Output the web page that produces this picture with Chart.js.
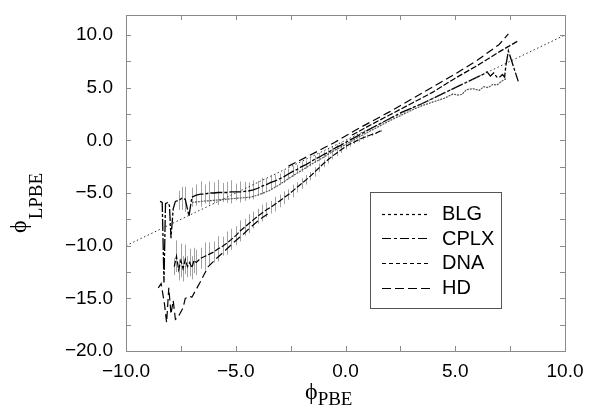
<!DOCTYPE html>
<html>
<head>
<meta charset="utf-8">
<script src="https://cdn.jsdelivr.net/npm/chart.js@4.4.1/dist/chart.umd.min.js"></script>
<style>
body{margin:0;background:#fff}
#wrap{width:589px;height:415px;position:relative}
</style>
</head>
<body>
<div id="wrap"><canvas id="chart"></canvas></div>
<script>
// reference line phi_LPBE = phi_PBE
let diagX = [-10, 10];
let diagY = [-10, 10];

let blgX = [-7.0,-6.6,-6.0,-5.5,-5.0,-4.35,-4.0,-3.5,-3.0,-2.5,-2.0,-1.5,-1.0,-0.5,0,0.5,1.0,1.5,2.0,2.5,3.0,3.5,4.0,4.5,4.9,5.1,5.3,5.5,5.8,6.1,6.3,6.5,6.7,6.9,7.1,7.35];
let blgY = [-5.9,-5.8,-5.7,-5.6,-5.5,-5.4,-5.2,-4.8,-4.2,-3.5,-2.85,-2.2,-1.6,-0.95,-0.4,0.2,0.75,1.3,1.85,2.35,2.85,3.3,3.65,4.0,4.4,4.3,4.35,4.8,4.9,4.75,5.1,5.0,5.3,5.25,5.6,5.9];

let cplxX = [-8.45,-8.35,-8.27,-8.2,-8.1,-8.02,-7.95,-7.85,-7.75,-7.6,-7.45,-7.3,-7.13,-7.0,
  -6.8,-6.6,-6.4,-6.2,-6.0,-5.8,-5.6,-5.4,-5.2,-5.0,-4.8,-4.6,-4.4,
  -4.2,-4.0,-3.8,-3.6,-3.4,-3.2,-3.0,-2.8,-2.6,-2.4,-2.2,-2.0,-1.8,-1.6,-1.4,-1.2,-1.0,-0.8,-0.6,-0.4,-0.2,0.0,
  0.5,1.0,1.5,2.0,2.5,3.0,3.5,4.0,4.5,5.0,5.5,6.0,6.3,6.45,6.6,6.75,6.9,7.05,7.15,7.25,7.3,7.42,7.87];
let cplxY = [-5.8,-5.9,-13.5,-6.0,-5.9,-6.2,-9.3,-6.5,-5.8,-5.7,-5.5,-5.6,-7.2,-5.4,
  -5.2,-5.1,-5.1,-5.0,-5.0,-4.95,-4.95,-4.95,-4.9,-4.9,-4.9,-4.85,-4.8,
  -4.7,-4.55,-4.35,-4.2,-4.0,-3.85,-3.65,-3.45,-3.2,-2.95,-2.75,-2.5,-2.3,-2.05,-1.8,-1.6,-1.35,-1.15,-0.9,-0.65,-0.45,-0.2,
  0.35,0.95,1.5,2.05,2.6,3.05,3.5,4.0,4.5,5.0,5.5,6.0,6.3,6.5,6.1,6.4,6.0,6.05,6.25,6.0,7.0,8.5,5.6];
let cplxErr = [0,0,0,0,0,0,0,0,0,0.9,1.1,1.2,0,0.9,
  1.0,1.2,0.9,1.1,1.0,1.2,0.9,1.0,1.1,0.8,1.0,0.9,0.8,
  0.9,0.7,0.8,0.6,0.7,0.6,0.5,0.6,0.5,0.5,0.4,0.5,0.4,0.4,0.35,0.4,0.3,0.3,0.3,0.25,0.25,0.2,
  0,0,0,0,0,0,0,0,0,0,0,0,0,0,0,0,0,0,0,0,0,0,0];

let dnaX = [-7.8,-7.7,-7.6,-7.5,-7.4,-7.3,-7.2,-7.1,-7.0,-6.9,
  -6.8,-6.6,-6.4,-6.2,-6.0,-5.8,-5.6,-5.4,-5.2,-5.0,-4.8,-4.6,-4.4,-4.2,-4.0,-3.8,-3.6,-3.4,-3.2,-3.0,-2.8,-2.6,
  -2.4,-2.2,-2.0,-1.8,-1.6,-1.4,-1.2,-1.0,-0.8,-0.6,-0.4,-0.2,0.0,0.2,0.4,0.6,0.8,1.0,1.2,1.4,1.6,
  1.7,
  0.3,1.0,2.0,3.0,4.0,5.0,6.0,7.0,7.87];
let dnaY = [-12.0,-11.0,-12.3,-11.4,-12.2,-11.3,-12.0,-11.6,-12.1,-11.4,
  -11.6,-11.2,-11.0,-10.8,-10.6,-10.3,-10.05,-9.75,-9.4,-9.05,-8.6,-8.25,-7.9,-7.55,-7.2,-6.9,-6.6,-6.35,-6.05,-5.75,-5.45,-5.15,
  -4.8,-4.45,-4.1,-3.75,-3.4,-3.0,-2.6,-2.2,-1.85,-1.5,-1.2,-0.9,-0.6,-0.35,-0.15,0.05,0.25,0.4,0.55,0.7,0.9,
  null,
  0.5,1.3,2.4,3.5,4.6,5.9,7.1,8.4,9.45];
let dnaErr = [0.8,1.5,1.0,1.6,1.2,1.4,1.0,1.3,1.1,1.2,
  1.2,1.0,1.3,1.1,1.0,1.2,0.9,1.1,1.0,0.9,1.0,0.8,0.9,0.8,0.7,0.8,0.7,0.6,0.7,0.6,0.6,0.5,
  0.6,0.5,0.5,0.45,0.4,0.45,0.4,0.35,0.35,0.3,0.3,0.3,0.25,0.25,0.2,0.2,0.2,0.15,0.15,0.1,0.1,
  0,
  0,0,0,0,0,0,0,0,0];

let hdX = [-8.53,-8.4,-8.25,-8.15,-8.05,-7.95,-7.85,-7.75,-7.63,-7.4,-7.3,-7.1,-7.0,-6.63,-6.26,-5.87,-5.5,-5.1,-4.7,-4.35,-3.9,-3.44,
  -3.0,
  -2.6,-1.7,-0.5,0.66,2.0,3.0,4.0,5.0,6.0,7.0,7.42];
let hdY = [-14.0,-13.6,-15.5,-17.3,-14.0,-16.5,-15.2,-17.0,-16.8,-15.9,-15.0,-14.8,-14.9,-13.5,-12.0,-11.2,-10.5,-9.7,-9.0,-8.3,-7.5,-6.85,
  null,
  -2.45,-1.5,-0.2,1.2,2.7,3.9,5.1,6.3,7.6,9.1,10.1];

let xTicks = [-10,-7.5,-5,-2.5,0,2.5,5,7.5,10];
let yTicks = [-20,-17.5,-15,-12.5,-10,-7.5,-5,-2.5,0,2.5,5,7.5,10];

function pts(xs, ys) {
    return xs.map((x, i) => ({x: x, y: ys[i]}));
}
function fmt(v) {
    if (v % 5 !== 0) return "";
    return (v < 0 ? "\u2212" : "") + Math.abs(v).toFixed(1);
}

let decor = {
    id: "decor",
    beforeDatasetsDraw(chart) {
        let ctx = chart.ctx, sx = chart.scales.x, sy = chart.scales.y;
        ctx.save();
        ctx.strokeStyle = "#a2a2a2";
        ctx.lineWidth = 1;
        chart.data.datasets.forEach(ds => {
            if (!ds.errs) return;
            ds.data.forEach((p, i) => {
                let e = ds.errs[i];
                if (!e || p.y == null) return;
                let px = Math.round(sx.getPixelForValue(p.x)) + 0.5;
                ctx.beginPath();
                ctx.moveTo(px, sy.getPixelForValue(p.y - e));
                ctx.lineTo(px, sy.getPixelForValue(p.y + e));
                ctx.stroke();
            });
        });
        ctx.restore();
    },
    afterDraw(chart) {
        let ctx = chart.ctx, a = chart.chartArea, sx = chart.scales.x, sy = chart.scales.y;
        ctx.save();
        // frame with inward ticks
        ctx.strokeStyle = "#8a8a8a";
        ctx.lineWidth = 1;
        ctx.strokeRect(a.left + 0.5, a.top + 0.5, a.right - a.left, a.bottom - a.top);
        ctx.beginPath();
        xTicks.forEach(v => {
            let p = Math.round(sx.getPixelForValue(v)) + 0.5;
            ctx.moveTo(p, a.bottom); ctx.lineTo(p, a.bottom - 5);
            ctx.moveTo(p, a.top); ctx.lineTo(p, a.top + 5);
        });
        yTicks.forEach(v => {
            let p = Math.round(sy.getPixelForValue(v)) + 0.5;
            ctx.moveTo(a.left, p); ctx.lineTo(a.left + 5, p);
            ctx.moveTo(a.right, p); ctx.lineTo(a.right - 5, p);
        });
        ctx.stroke();

        // legend box
        ctx.fillStyle = "#fff";
        ctx.fillRect(370, 192, 132, 117);
        ctx.strokeStyle = "#555";
        ctx.strokeRect(370.5, 192.5, 131, 116);
        ctx.font = "20px 'Liberation Sans', Arial, sans-serif";
        ctx.textBaseline = "middle";
        ctx.fillStyle = "#000";
        let rows = chart.data.datasets.filter(d => d.label);
        rows.forEach((d, i) => {
            let y = 213.5 + i * 24.7;
            ctx.save();
            ctx.strokeStyle = "#000";
            ctx.lineWidth = 1.2;
            ctx.setLineDash(d.legendDash || d.borderDash || []);
            ctx.beginPath();
            ctx.moveTo(382, Math.round(y) + 0.5);
            ctx.lineTo(430, Math.round(y) + 0.5);
            ctx.stroke();
            ctx.restore();
            ctx.fillText(d.label, 442, y + 1);
        });

        // axis titles
        ctx.textBaseline = "alphabetic";
        ctx.font = "24px 'Liberation Serif', 'DejaVu Serif', serif";
        ctx.fillText("\u03d5", 305, 399);
        let w = ctx.measureText("\u03d5").width;
        ctx.font = "19px 'Liberation Serif', 'DejaVu Serif', serif";
        ctx.fillText("PBE", 305 + w, 405);

        ctx.translate(26, 233);
        ctx.rotate(-Math.PI / 2);
        ctx.font = "24px 'Liberation Serif', 'DejaVu Serif', serif";
        ctx.fillText("\u03d5", 0, 0);
        w = ctx.measureText("\u03d5").width;
        ctx.font = "19px 'Liberation Serif', 'DejaVu Serif', serif";
        ctx.fillText("LPBE", w + 1, 16);
        ctx.restore();
    }
};

function noPad(s) {
    s.paddingTop = 0; s.paddingBottom = 0; s.paddingLeft = 0; s.paddingRight = 0;
}

Chart.defaults.font.family = "'Liberation Sans', Arial, sans-serif";
Chart.defaults.font.size = 19;
Chart.defaults.color = "#000";

let myChart = new Chart(document.getElementById("chart").getContext("2d"), {
    type: "scatter",
    data: {
        datasets: [
            {data: pts(diagX, diagY), showLine: true, borderColor: "#333", borderWidth: 1, borderDash: [1.5, 2.5], pointRadius: 0},
            {label: "BLG", data: pts(blgX, blgY), showLine: true, borderColor: "#555", borderWidth: 1.2, borderDash: [2, 1], legendDash: [3, 3], pointRadius: 0},
            {label: "CPLX", data: pts(cplxX, cplxY), errs: cplxErr, showLine: true, borderColor: "#000", borderWidth: 1.3, borderDash: [12, 2, 3, 2], legendDash: [9, 3, 3, 3], pointRadius: 0},
            {label: "DNA", data: pts(dnaX, dnaY), errs: dnaErr, showLine: true, borderColor: "#000", borderWidth: 1.2, borderDash: [6, 2], legendDash: [4, 3], pointRadius: 0},
            {label: "HD", data: pts(hdX, hdY), showLine: true, borderColor: "#000", borderWidth: 1.2, borderDash: [8, 4], legendDash: [9, 4], pointRadius: 0}
        ]
    },
    options: {
        responsive: true,
        maintainAspectRatio: false,
        animation: false,
        devicePixelRatio: 1,
        layout: {padding: {left: 0, right: 24, top: 15, bottom: 0}},
        plugins: {legend: {display: false}, tooltip: {enabled: false}},
        scales: {
            x: {
                type: "linear", min: -10, max: 10,
                grid: {display: false, drawTicks: false},
                border: {display: false},
                afterBuildTicks: s => { s.ticks = xTicks.map(v => ({value: v})); },
                afterFit: s => { s.height = 64; noPad(s); },
                ticks: {autoSkip: false, maxRotation: 0, padding: 9, callback: v => fmt(v)}
            },
            y: {
                type: "linear", min: -20, max: 11.9,
                grid: {display: false, drawTicks: false},
                border: {display: false},
                afterBuildTicks: s => { s.ticks = yTicks.map(v => ({value: v})); },
                afterFit: s => { s.width = 126; noPad(s); },
                ticks: {autoSkip: false, padding: 13, callback: v => fmt(v)}
            }
        }
    },
    plugins: [decor]
});
</script>
</body>
</html>
